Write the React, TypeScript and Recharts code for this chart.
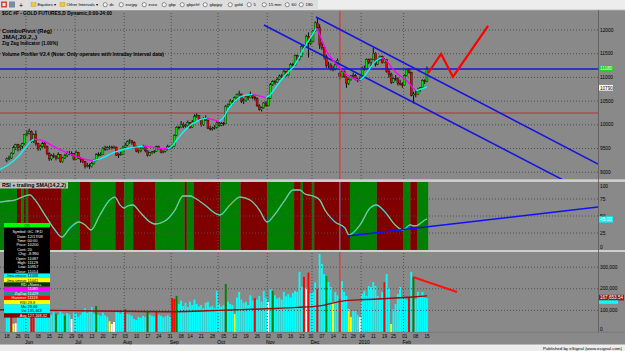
import React from 'react';
import { ComposedChart, Bar, Line, XAxis, YAxis, ReferenceLine, ReferenceArea, Cell } from 'recharts';

// ---------- DATA ----------
// daily candles [open, high, low, close], May 18 2009 .. Feb 16 2010 (index = trading day)
const candles: number[][] = [
  [9250,9310,9210,9280],[9280,9350,9250,9300],[9300,9420,9280,9400],[9400,9560,9380,9520],[9520,9600,9470,9580],
  [9580,9600,9440,9520],[9520,9580,9460,9550],[9550,9620,9500,9600],[9600,9800,9580,9790],[9790,9880,9760,9820],
  [9820,9920,9800,9860],[9860,9880,9620,9650],[9650,9820,9620,9800],[9800,9880,9560,9600],[9600,9620,9450,9500],
  [9500,9580,9460,9550],[9550,9640,9520,9600],[9600,9650,9500,9550],[9550,9560,9360,9400],[9400,9420,9240,9280],
  [9280,9380,9250,9350],[9350,9400,9300,9340],[9340,9360,9250,9300],[9300,9420,9280,9370],[9370,9380,9200,9220],
  [9220,9320,9200,9300],[9300,9390,9280,9350],[9350,9440,9320,9400],[9400,9450,9360,9400],[9400,9440,9350,9390],
  [9390,9400,9250,9270],[9270,9460,9260,9420],[9420,9430,9280,9300],[9300,9320,9200,9270],[9270,9300,9190,9220],
  [9220,9240,9080,9120],[9120,9200,9100,9140],[9140,9180,9070,9120],[9120,9220,9100,9180],[9180,9280,9160,9250],
  [9250,9400,9240,9370],[9370,9420,9330,9360],[9360,9420,9340,9380],[9380,9530,9370,9500],[9500,9560,9450,9480],
  [9480,9550,9460,9520],[9520,9560,9480,9530],[9530,9560,9480,9510],[9510,9560,9500,9530],[9530,9540,9340,9360],
  [9360,9400,9300,9370],[9370,9430,9350,9380],[9380,9560,9370,9530],[9530,9620,9510,9570],[9570,9670,9550,9650],
  [9650,9700,9600,9660],[9660,9680,9580,9630],[9630,9650,9500,9550],[9550,9560,9420,9440],[9440,9480,9400,9460],
  [9460,9530,9420,9500],[9500,9580,9480,9550],[9550,9560,9420,9450],[9450,9460,9330,9360],[9360,9430,9340,9410],
  [9410,9450,9380,9430],[9430,9470,9400,9440],[9440,9560,9430,9540],[9540,9560,9480,9500],[9500,9510,9400,9420],
  [9420,9460,9400,9440],[9440,9500,9420,9480],[9480,9580,9460,9540],[9540,9560,9480,9530],[9530,9600,9500,9550],
  [9550,9800,9540,9780],[9780,9970,9760,9950],[9950,9980,9900,9940],[9940,10080,9930,10000],[10000,10050,9930,9970],
  [9970,10020,9940,9990],[9990,10090,9960,10050],[10050,10060,9920,9950],[9950,10100,9940,10060],[10060,10220,10040,10180],
  [10180,10250,10150,10190],[10190,10200,10080,10120],[10120,10130,9960,10000],[10000,10160,9980,10140],[10140,10200,10080,10100],
  [10100,10110,9910,9930],[9930,9980,9880,9910],[9910,9960,9880,9930],[9930,9990,9900,9950],[9950,10080,9920,10040],
  [10040,10080,9960,9990],[9990,10060,9970,10030],[10030,10060,9980,10020],[10020,10420,10010,10390],[10390,10450,10360,10420],
  [10420,10540,10400,10500],[10500,10520,10420,10480],[10480,10600,10470,10570],[10570,10660,10540,10640],[10640,10720,10610,10650],
  [10650,10660,10460,10500],[10500,10560,10440,10510],[10510,10620,10490,10590],[10590,10610,10520,10570],[10570,10700,10560,10620],
  [10620,10650,10540,10580],[10580,10620,10510,10550],[10550,10580,10380,10400],[10400,10430,10300,10320],[10320,10380,10280,10360],
  [10360,10480,10340,10460],[10460,10500,10380,10400],[10400,10580,10390,10560],[10560,10880,10550,10850],[10850,10940,10820,10910],
  [10910,10950,10850,10900],[10900,11000,10890,10960],[10960,11060,10950,11030],[11030,11070,10990,11020],[11020,11170,11010,11130],
  [11130,11140,11020,11050],[11050,11190,11040,11170],[11170,11300,11160,11270],[11270,11310,11230,11260],[11260,11480,11250,11460],
  [11460,11480,11340,11380],[11380,11470,11360,11440],[11440,11680,11430,11650],[11650,11690,11600,11640],[11640,11900,11630,11870],
  [11870,11950,11420,11720],[11720,11850,11680,11750],[11750,12000,11740,11980],[11980,12180,11960,12150],[12150,12270,12030,12050],
  [12050,12120,11600,11690],[11690,11750,11580,11630],[11630,11640,11380,11440],[11440,11480,11200,11250],[11250,11330,11190,11260],
  [11260,11300,11140,11180],[11180,11250,11130,11170],[11170,11300,11150,11270],[11270,11400,11250,11360],[11087,11129,10957,11014],
  [11014,11180,11000,11130],[11130,11150,10990,11010],[11010,11020,10780,10870],[10870,10980,10840,10950],[10950,11050,10930,11030],
  [11030,11100,10980,11040],[11040,11070,10940,10960],[10960,11000,10900,10940],[10940,11020,10920,10970],[10970,11230,10960,11190],
  [11190,11250,11140,11180],[11180,11400,11170,11380],[11380,11400,11280,11320],[11320,11400,11200,11380],[11380,11620,11370,11510],
  [11510,11530,11230,11280],[11280,11400,11260,11370],[11370,11460,11350,11440],[11440,11460,11290,11310],[11310,11410,11300,11380],
  [11380,11380,11100,11130],[11130,11180,10990,11070],[11070,11100,10860,10900],[10900,11000,10880,10980],[10980,11050,10930,10970],
  [10970,11000,10830,10880],[10880,10950,10830,10850],[10850,10900,10780,10830],[10830,11060,10820,11040],[11040,11190,11020,11170],
  [11170,11200,11080,11110],[11110,11120,10600,10620],[10620,10700,10450,10650],[10650,10720,10580,10640],[10640,10780,10630,10740],
  [10740,10800,10700,10780],[10780,10960,10760,10940],[10940,10960,10860,10920],[10920,11230,10900,11180],
];

// JMA(20) runs: rising = cyan, falling = magenta  [dayIndex, value]
const jmaRuns: { up: boolean; pts: number[][] }[] = [
  { up: true, pts: [[-3,9060],[1,9170],[5,9330],[8,9500],[10,9620],[12,9700]] },
  { up: false, pts: [[12,9700],[15,9680],[18,9620],[21,9540],[24,9470],[27,9410],[30,9350],[33,9300],[36,9260],[38.5,9245]] },
  { up: true, pts: [[38.5,9245],[41,9270],[44,9330],[47,9400],[50,9450],[53,9490],[56,9520],[59,9540],[61,9548]] },
  { up: false, pts: [[61,9548],[64,9535],[67,9515],[70,9495],[72,9490]] },
  { up: true, pts: [[72,9490],[74,9560],[76,9680],[78,9800],[80,9900],[82,9990],[84,10050],[86,10100],[88,10130],[89.5,10140]] },
  { up: false, pts: [[89.5,10140],[92,10110],[95,10070]] },
  { up: true, pts: [[95,10070],[97,10160],[99,10330],[101,10450],[103,10540],[105,10600],[108,10630],[110,10635]] },
  { up: false, pts: [[110,10635],[113,10610],[116,10570]] },
  { up: true, pts: [[116,10570],[118,10640],[120,10770],[122,10900],[124,11020],[126,11120],[128,11210],[130,11360],[132,11540],[134,11700],[136,11850],[138.5,12040]] },
  { up: false, pts: [[138.5,12040],[140,11900],[141.5,11720],[143,11560],[145,11420],[147,11300],[149,11200],[151,11100],[153,11030],[155,10980],[157,10950],[158,10945]] },
  { up: true, pts: [[158,10945],[160,11030],[162,11160],[164,11290],[166,11380],[168,11410]] },
  { up: false, pts: [[168,11410],[170,11340],[172,11220],[174,11110],[176,11030],[178,10970],[180,10880],[182,10760],[183,10730]] },
  { up: true, pts: [[183,10730],[185,10750],[188,10800]] },
];

// drawn objects (price units / day index)
const lowerChannel = [[115, 12106], [248.9, 8836]];
const upperChannel = [[138.3, 12274], [264.5, 9173]];
const zigzag = [[188.5, 11093], [194.3, 11494], [199.6, 11009], [215.3, 12085]];
const pivotBlue = 11177;
const pivotRed = 10249;
const cursorDay = 149;

// RSI(14) + trailing SMA
const rsiPoints: number[][] = [
  [-3,70.6],[0,72],[3.6,73.5],[8,79.4],[10.3,81],[12.5,74],[17,51.5],[21.5,29.4],[24.6,19.1],[28.2,32.4],
  [32.2,41.2],[35,36.8],[37.6,29.4],[41.6,51.5],[46,73.5],[48.3,77.9],[50.6,66.2],[52.4,61.8],[54,64.7],[56.4,66.2],
  [59.5,55.9],[64,41.2],[66.2,38.2],[70.7,42.6],[75.2,58.8],[78.8,79.4],[82,79.4],[84,76.5],[88.6,66.2],[93,54.4],
  [95.3,51.5],[99.8,66.2],[104.3,77.9],[108.8,73.5],[113,58.8],[116.4,41.2],[120,52.9],[124.4,73.5],[128,88.2],[131,88.2],
  [133.4,82.4],[137,79.4],[140,73.5],[142.3,58.8],[146.8,41.2],[151.3,32.4],[153,22],[158,36.8],[162.5,61.8],[165.2,66.2],
  [169.2,55.9],[173.7,36.8],[177.3,29.4],[180.4,37],[182,35.5],[183.5,36],[187,44.1],[188,45.6],
];
const rsiBands: [number, number, string][] = [
  [-3.1,4.5,'g'],[4.5,6.5,'r'],[6.5,7.5,'g'],[7.5,8.5,'r'],[8.5,9.5,'g'],[9.5,24.5,'r'],[24.5,32.5,'g'],[32.5,37.5,'r'],
  [37.5,48.5,'g'],[48.5,52.5,'r'],[52.5,56.5,'g'],[56.5,66.5,'r'],[66.5,79.5,'g'],[79.5,80.5,'r'],[80.5,83.5,'g'],[83.5,95.5,'r'],
  [95.5,104.5,'g'],[104.5,116.5,'r'],[116.5,128.5,'g'],[128.5,131.5,'r'],[131.5,132.5,'g'],[132.5,136.5,'r'],[136.5,137.5,'g'],
  [137.5,153.5,'r'],[153.5,165.5,'g'],[165.5,177.5,'r'],[177.5,180.5,'g'],[180.5,183.5,'r'],[183.5,188.5,'g'],
];
const rsiTrend = [[152.6, 20.6], [264.5, 63.2]];

// volume, thousands of contracts
const volumeK: number[] = [
  110,95,100,38,40,120,105,90,125,115, 100,85,88,95,90,80,95,85,100,90,
  80,92,85,80,95,85,75,88,82,60, 90,85,70,80,92,110,88,95,115,85,
  120,80,75,90,78,70,50,37,46,97, 90,85,100,106,83,80,75,60,55,70,
  65,75,70,97,80,75,72,97,80,75, 68,72,78,70,157,153,167,130,145,120,
  135,115,140,125,150,130,118,125,110,135, 140,115,120,110,190,130,118,125,222,140,
  130,125,83,160,185,150,135,140,125,170, 145,157,150,167,140,190,160,139,200,190,
  170,155,160,150,185,165,175,160,180,190, 185,278,210,255,204,275,180,185,230,200,
  361,315,268,259,231,208,139,185,170,153, 236,185,167,106,69,97,97,80,69,176,
  190,167,213,208,231,213,167,150,185,230, 268,200,37,106,130,176,208,157,157,150,
  157,278,255,153,185,167,185,160,157,
];
const volHighlights: [number, string][] = [
  [2,'r'],[3,'y'],[4,'w'],[11,'r'],[12,'r'],[22,'g'],[26,'g'],[29,'w'],[40,'g'],[46,'y'],[47,'w'],[48,'w'],
  [53,'r'],[63,'g'],[67,'r'],[74,'r'],[75,'r'],[76,'g'],[98,'g'],[102,'y'],[111,'r'],[117,'w'],[119,'g'],
  [133,'r'],[134,'w'],[135,'r'],[139,'r'],[143,'g'],[146,'y'],[149,'r'],[153,'y'],[154,'y'],[158,'w'],
  [169,'r'],[172,'y'],[180,'r'],[182,'g'],
];
const volAvg: number[][] = [
  [-3,103],[20,100],[40,97],[60,95],[75,94],[90,98],[100,102],[110,105],[120,109],[130,114],
  [140,121],[145,132],[150,143],[160,150],[170,155],[180,161],[188,167],
];
const volTrend = [[181.7, 254.6], [201.4, 185]];

// axis labels
const dayTicks: [number, string][] = [
  [0,'18'],[5,'26'],[9,'01'],[14,'08'],[19,'15'],[24,'22'],[29,'29'],[33,'06'],[38,'13'],[43,'20'],
  [48,'27'],[53,'03'],[58,'10'],[63,'17'],[68,'24'],[73,'31'],[78,'08'],[82,'14'],[87,'21'],[92,'28'],
  [97,'05'],[102,'12'],[107,'19'],[112,'26'],[117,'02'],[122,'09'],[127,'16'],[132,'23'],[136,'30'],[141,'07'],
  [146,'14'],[151,'21'],[155,'28'],[159,'04'],[164,'11'],[169,'19'],[173,'25'],[178,'01'],[183,'08'],[188,'15'],
];
const monthTicks: [number, string][] = [
  [9,'Jun'],[31,'Jul'],[53,'Aug'],[74,'Sep'],[95,'Oct'],[117,'Nov'],[137,'Dec'],[159,'2010'],[178,'Feb'],
];
const monthGrid = [8.5, 30.5, 52.5, 73.5, 94.5, 116.5, 136.5, 158.5, 177.5];
const priceTicks = [9000, 9500, 10000, 10500, 11000, 11500, 12000];
const rsiTicks = [0, 25, 50, 75, 100];
const volTicks = [0, 100, 200, 300];

// ---------- TABLES ----------
const priceRows = candles.map(([o, h, l, c], i) => ({ i, o, h, l, c, range: [l, h] }));
const volColorMap: Record<string, string> = { c: '#00ffff', r: '#ff0000', g: '#008000', w: '#ffffff', y: '#ffff00' };
const hl = new Map(volHighlights);
const volRows = volumeK.map((v, i) => ({ i, v, fill: volColorMap[hl.get(i) || 'c'] }));
const rsiRows = rsiPoints.map(([i, v]) => ({ i, v }));
const toXY = (a: number[][]) => a.map(([i, v]) => ({ i, v }));
const toSeg = (a: number[][]) => a.map(([x, y]) => ({ x, y }));
const dayMap = new Map(dayTicks);
const monMap = new Map(monthTicks);
const xTicks = Array.from(new Set([...dayTicks.map((d) => d[0]), ...monthTicks.map((m) => m[0])])).sort((a, b) => a - b);

const X_DOMAIN: [number, number] = [-3.1, 264.5];
const PRICE_DOMAIN: [number, number] = [8857, 12401];
const VOL_DOMAIN: [number, number] = [0, 370];
const GRID = '#4f4f4f';
const W = 625;

const Candle = (p: any) => {
  const { x, y, width, height, payload } = p;
  if (!payload || x == null || y == null) return null;
  const { o, h, l, c } = payload;
  const top = Math.min(y, y + height);
  const span = Math.abs(height);
  const k = h > l ? span / (h - l) : 0;
  const yO = top + (h - o) * k;
  const yC = top + (h - c) * k;
  const cx = x + width / 2;
  const bt = Math.min(yO, yC);
  const bh = Math.max(Math.abs(yO - yC), 0.7);
  return (
    <g>
      <line x1={cx} x2={cx} y1={top} y2={top + span} stroke="#000" strokeWidth={0.9} />
      <rect x={cx - 1} y={bt} width={2} height={bh} fill={c >= o ? '#00e000' : '#ee0000'} stroke="#000" strokeWidth={0.35} />
    </g>
  );
};

const RightTick = (p: any) => {
  const { x, y, payload, fmt, shift } = p;
  const v = payload.value;
  return (
    <text x={x} y={y + (shift && shift[v] ? shift[v] : 0)} dy="0.35em" fontSize={4.8} fill="#000" textAnchor="start">
      {fmt ? fmt(v) : v}
    </text>
  );
};

const XTick = (p: any) => {
  const { x, y, payload } = p;
  const d = dayMap.get(payload.value);
  const m = monMap.get(payload.value);
  return (
    <g>
      {d && <text x={x} y={y + 5.6} textAnchor="middle" fontSize={4.6} fill="#000">{d}</text>}
      {m && <text x={x + 2} y={y + 11.6} textAnchor="middle" fontSize={5} fill="#000">{m}</text>}
    </g>
  );
};

const noMargin = { top: 0, right: 0, bottom: 0, left: 0 };
const rightMargin = { top: 0, right: 27, bottom: 0, left: 0 };

function PriceBase() {
  return (
    <ComposedChart width={W} height={168} data={priceRows} margin={noMargin}>
      <XAxis type="number" dataKey="i" domain={X_DOMAIN} allowDataOverflow hide />
      <YAxis orientation="right" width={27} type="number" domain={PRICE_DOMAIN} allowDataOverflow ticks={priceTicks}
        interval={0} tickSize={0} tickMargin={2} axisLine={false} tickLine={false} tick={(p: any) => <RightTick {...p} />} />
      {priceTicks.map((v) => <ReferenceLine key={'h' + v} y={v} stroke={GRID} strokeDasharray="1 2" />)}
      {monthGrid.map((v) => <ReferenceLine key={'v' + v} x={v} stroke={GRID} strokeDasharray="1 2" />)}
      <Bar dataKey="range" barSize={2} isAnimationActive={false} shape={(p: any) => <Candle {...p} />} />
    </ComposedChart>
  );
}

function PriceOverlay() {
  return (
    <ComposedChart width={W} height={168} data={priceRows} margin={rightMargin}>
      <XAxis type="number" dataKey="i" domain={X_DOMAIN} allowDataOverflow hide />
      <YAxis type="number" domain={PRICE_DOMAIN} allowDataOverflow hide />
      <ReferenceLine y={pivotRed} stroke="#c02828" strokeWidth={0.9} />
      <ReferenceLine x={cursorDay} stroke="#ff2020" strokeWidth={1} />
      <ReferenceLine y={pivotBlue} stroke="#1414e0" strokeWidth={1.5} />
      <ReferenceLine segment={toSeg(lowerChannel)} stroke="#1414e0" strokeWidth={1.5} ifOverflow="hidden" />
      <ReferenceLine segment={toSeg(upperChannel)} stroke="#1414e0" strokeWidth={1.5} ifOverflow="hidden" />
      {jmaRuns.map((r, k) => (
        <Line key={k} data={toXY(r.pts)} dataKey="v" type="monotone" stroke={r.up ? '#00ffff' : '#ff00ff'}
          strokeWidth={1.3} dot={false} activeDot={false} isAnimationActive={false} />
      ))}
      <Line data={toXY(zigzag)} dataKey="v" type="linear" stroke="#ff0000" strokeWidth={2.2} dot={false}
        activeDot={false} isAnimationActive={false} />
    </ComposedChart>
  );
}

function RsiChart() {
  return (
    <ComposedChart width={W} height={68} data={rsiRows} margin={noMargin}>
      <XAxis type="number" dataKey="i" domain={X_DOMAIN} allowDataOverflow hide />
      <YAxis orientation="right" width={27} type="number" domain={[0, 100]} allowDataOverflow ticks={rsiTicks}
        interval={0} tickSize={0} tickMargin={2} axisLine={false} tickLine={false}
        tick={(p: any) => <RightTick {...p} shift={{ 100: 4, 0: -3 }} />} />
      {rsiBands.map(([a, b, c], k) => (
        <ReferenceArea key={k} x1={a} x2={b} y1={0} y2={100} fill={c === 'g' ? '#008000' : '#800000'} fillOpacity={1}
          stroke="none" ifOverflow="hidden" />
      ))}
      {[25, 50, 75].map((v) => <ReferenceLine key={'h' + v} y={v} stroke={GRID} strokeDasharray="1 2" />)}
      {monthGrid.map((v) => <ReferenceLine key={'v' + v} x={v} stroke={GRID} strokeDasharray="1 2" />)}
      <ReferenceLine x={cursorDay} stroke="#6f8fd0" strokeWidth={1} />
      <Line dataKey="v" type="monotone" stroke="#00e5ff" strokeWidth={1.3} dot={false} activeDot={false} isAnimationActive={false} />
      <Line dataKey="v" type="monotone" stroke="#e3a53a" strokeWidth={0.8} dot={false} activeDot={false} isAnimationActive={false} />
      <ReferenceLine segment={toSeg(rsiTrend)} stroke="#1010ff" strokeWidth={1.5} ifOverflow="hidden" />
    </ComposedChart>
  );
}

function VolBase() {
  return (
    <ComposedChart width={W} height={94} data={volRows} margin={noMargin}>
      <XAxis type="number" dataKey="i" domain={X_DOMAIN} allowDataOverflow height={14} ticks={xTicks} interval={0}
        tickSize={0} tickMargin={0} axisLine={false} tickLine={false} tick={(p: any) => <XTick {...p} />} />
      <YAxis orientation="right" width={27} type="number" domain={VOL_DOMAIN} allowDataOverflow ticks={volTicks}
        interval={0} tickSize={0} tickMargin={2} axisLine={false} tickLine={false}
        tick={(p: any) => <RightTick {...p} shift={{ 0: -3 }} fmt={(v: number) => (v === 0 ? '0' : v + ',000')} />} />
      {[100, 200, 300].map((v) => <ReferenceLine key={'h' + v} y={v} stroke={GRID} strokeDasharray="1 2" />)}
      {monthGrid.map((v) => <ReferenceLine key={'v' + v} x={v} stroke={GRID} strokeDasharray="1 2" />)}
      <ReferenceLine x={cursorDay} stroke="#ff2020" strokeWidth={1} />
      <Bar dataKey="v" barSize={1.9} isAnimationActive={false}>
        {volRows.map((r) => <Cell key={r.i} fill={r.fill} />)}
      </Bar>
    </ComposedChart>
  );
}

function VolOverlay() {
  return (
    <ComposedChart width={W} height={80} data={volRows} margin={rightMargin}>
      <XAxis type="number" dataKey="i" domain={X_DOMAIN} allowDataOverflow hide />
      <YAxis type="number" domain={VOL_DOMAIN} allowDataOverflow hide />
      <Line data={toXY(volAvg)} dataKey="v" type="monotone" stroke="#8e1010" strokeWidth={1.4} dot={false}
        activeDot={false} isAnimationActive={false} />
      <ReferenceLine segment={toSeg(volTrend)} stroke="#ff1010" strokeWidth={2} ifOverflow="hidden" />
    </ComposedChart>
  );
}

// ---------- TEXT / FRAME OVERLAY ----------
const toolbarItems: [number, string, string][] = [
  [31, 'Equities \u25BE', 'f'], [60, 'Other Intervals \u25BE', 'f'], [103, 'dc', 'o'], [119, 'eurjpy', 'o'],
  [142, 'euro', 'o'], [162, 'gbp', 'o'], [180, 'gbpchf', 'o'], [203, 'gbpjpy', 'o'], [228, 'gold', 'o'],
  [247, '5', 'o'], [262, '15 min', 'o'], [285, '60', 'o'], [299, '180', 'o'],
];
const headerLines: [string, number, number, number][] = [
  ['$GC #F - GOLD FUTURES,D Dynamic,0:00-24:00', 15, 110, 5],
  ['ComboPivot (Reg)', 32.7, 50, 4.8],
  ['JMA(,20,2,,)', 38.7, 35, 4.8],
  ['Zig Zag Indicator (1.00%)', 44.7, 56, 4.8],
  ['Volume Profiler V2.4 (Note: Only operates with Intraday Interval data)', 55.7, 162, 4.8],
];
const legendRows: [string, string][] = [
  ['Symbol:', 'GC #F,D'], ['Date:', '12/17/09'], ['Time:', '00:00'], ['Price:', '10200'], ['Cont:', '20'],
  ['Chg:', '-8.990'], ['Open:', '11087'], ['High:', '11129'], ['Low:', '10957'], ['Close:', '11014'],
];
const legendColorRows: [string, string, string, string][] = [
  ['#00ffff', '#000', 'Jma.vmove', '11038'], ['#ffff00', '#000', 'Jma.smove', '11041'], ['#003c00', '#fff', 'RD', '+None+'],
  ['#ff00ff', '#fff', '', '11085'], ['#2e8b8b', '#fff', 'ZigZag', '11429'], ['#ff0000', '#fff', 'Hammer', '11119'],
  ['#ffff00', '#000', 'RSI', '29.8'], ['#00ffff', '#000', 'Ma', '29.66'], ['#00ffff', '#000', 'Vol', '135,463'],
  ['#8b0000', '#fff', 'Avg', '127,168.32'],
];

function Overlay() {
  const rowH = 4.4;
  const r0 = 231.8;
  return (
    <svg width={W} height={351} style={{ position: 'absolute', left: 0, top: 0, pointerEvents: 'none' }}>
      {/* toolbar */}
      <rect x={0} y={0} width={W} height={9.5} fill="#ededed" />
      <rect x={0} y={0} width={318} height={9.5} fill="#dedede" />
      <line x1={0} x2={W} y1={9.8} y2={9.8} stroke="#ffffff" strokeWidth={0.6} />
      <rect x={1} y={1.5} width={6} height={6} fill="#c84b32" />
      <rect x={2.5} y={3} width={3} height={3} fill="#e8e8e8" />
      <rect x={9} y={1.5} width={6} height={6} fill="#7a8aa0" />
      <text x={21} y={7.5} fontSize={7} fill="#000" textAnchor="middle">+</text>
      {toolbarItems.map(([x, t, k]) => (
        <g key={t}>
          {k === 'f' ? (
            <rect x={x} y={2.5} width={5} height={4} fill="#f0c838" stroke="#a08020" strokeWidth={0.3} />
          ) : (
            <circle cx={x + 2.2} cy={4.7} r={2.1} fill="#f4f4f4" stroke="#333" strokeWidth={0.5} />
          )}
          <text x={x + 6.5} y={6.3} fontSize={4.3} fill="#000">{t}</text>
        </g>
      ))}

      {/* panel separators and right axis frame */}
      <rect x={0} y={179.3} width={W} height={2.6} fill="#cfcfcf" />
      <rect x={0} y={250} width={W} height={2} fill="#cfcfcf" />
      <line x1={598.5} x2={598.5} y1={10} y2={332} stroke="#5a5a5a" strokeWidth={0.8} />
      <line x1={0} x2={W} y1={332.3} y2={332.3} stroke="#6a6a6a" strokeWidth={0.5} />
      <rect x={0} y={345} width={W} height={6} fill="#ececec" />
      <line x1={0} x2={W} y1={344.8} y2={344.8} stroke="#ffffff" strokeWidth={0.6} />
      <text x={622} y={350} fontSize={4.4} fill="#000" textAnchor="end">Published by eSignal (www.esignal.com)</text>

      {/* price panel headers */}
      {headerLines.map(([t, y, w, fs]) => (
        <text key={t} x={2} y={y} fontSize={fs} fontWeight="bold" fill="#000" textLength={w} lengthAdjust="spacingAndGlyphs">{t}</text>
      ))}

      {/* RSI header */}
      <rect x={0} y={182.2} width={68} height={6.3} fill="#bdbdbd" />
      <text x={2} y={187.4} fontSize={4.8} fontWeight="bold" fill="#000" textLength={64} lengthAdjust="spacingAndGlyphs">RSI + trailing SMA(14,2,2)</text>

      {/* right axis value boxes */}
      <rect x={599} y={65.3} width={14} height={6} fill="#22cc22" />
      <text x={600} y={70} fontSize={4.6} fill="#ffffff">11180</text>
      <rect x={599} y={85} width={14} height={5.6} fill="#ffffff" />
      <text x={600} y={89.5} fontSize={4.6} fill="#000">10790</text>
      <rect x={599} y={216.5} width={14} height={6} fill="#00ffff" />
      <text x={600} y={221.2} fontSize={4.6} fill="#ffffff">45.00</text>
      <rect x={599} y={294.8} width={25} height={5.6} fill="#8b1a1a" />
      <text x={600} y={299.3} fontSize={4.6} fill="#ffffff">167,653.54</text>
      <rect x={599} y={300.4} width={19} height={3.4} fill="#00ffff" />

      {/* data window */}
      <rect x={4} y={223} width={46} height={4.6} fill="#00ff00" />
      <text x={27} y={226.6} fontSize={3.8} fill="#004000" textAnchor="middle">OK</text>
      <rect x={4} y={227.6} width={46} height={rowH * 10 + 2} fill="#000" />
      {legendRows.map(([l, v], k) => (
        <g key={l}>
          <text x={26.5} y={r0 + k * rowH + 1.4} fontSize={3.9} fill="#fff" textAnchor="end">{l}</text>
          <text x={27.6} y={r0 + k * rowH + 1.4} fontSize={3.9} fill="#fff">{v}</text>
        </g>
      ))}
      {legendColorRows.map(([bg, fg, l, v], k) => {
        const cy = r0 + (k + 10) * rowH;
        return (
          <g key={k}>
            <rect x={4} y={cy - rowH / 2} width={46} height={rowH} fill={bg} />
            <text x={26.5} y={cy + 1.4} fontSize={3.9} fill={fg} textAnchor="end">{l}</text>
            <text x={27.6} y={cy + 1.4} fontSize={3.9} fill={fg}>{v}</text>
          </g>
        );
      })}
    </svg>
  );
}

export default function App() {
  return (
    <div style={{ position: 'absolute', left: 0, top: 0, width: W, height: 351, background: '#898989', overflow: 'hidden',
      fontFamily: "'Liberation Sans', Arial, sans-serif" }}>
      <div style={{ position: 'absolute', left: 0, top: 11 }}><PriceBase /></div>
      <div style={{ position: 'absolute', left: 0, top: 11 }}><PriceOverlay /></div>
      <div style={{ position: 'absolute', left: 0, top: 182 }}><RsiChart /></div>
      <div style={{ position: 'absolute', left: 0, top: 252 }}><VolBase /></div>
      <div style={{ position: 'absolute', left: 0, top: 252 }}><VolOverlay /></div>
      <Overlay />
    </div>
  );
}
